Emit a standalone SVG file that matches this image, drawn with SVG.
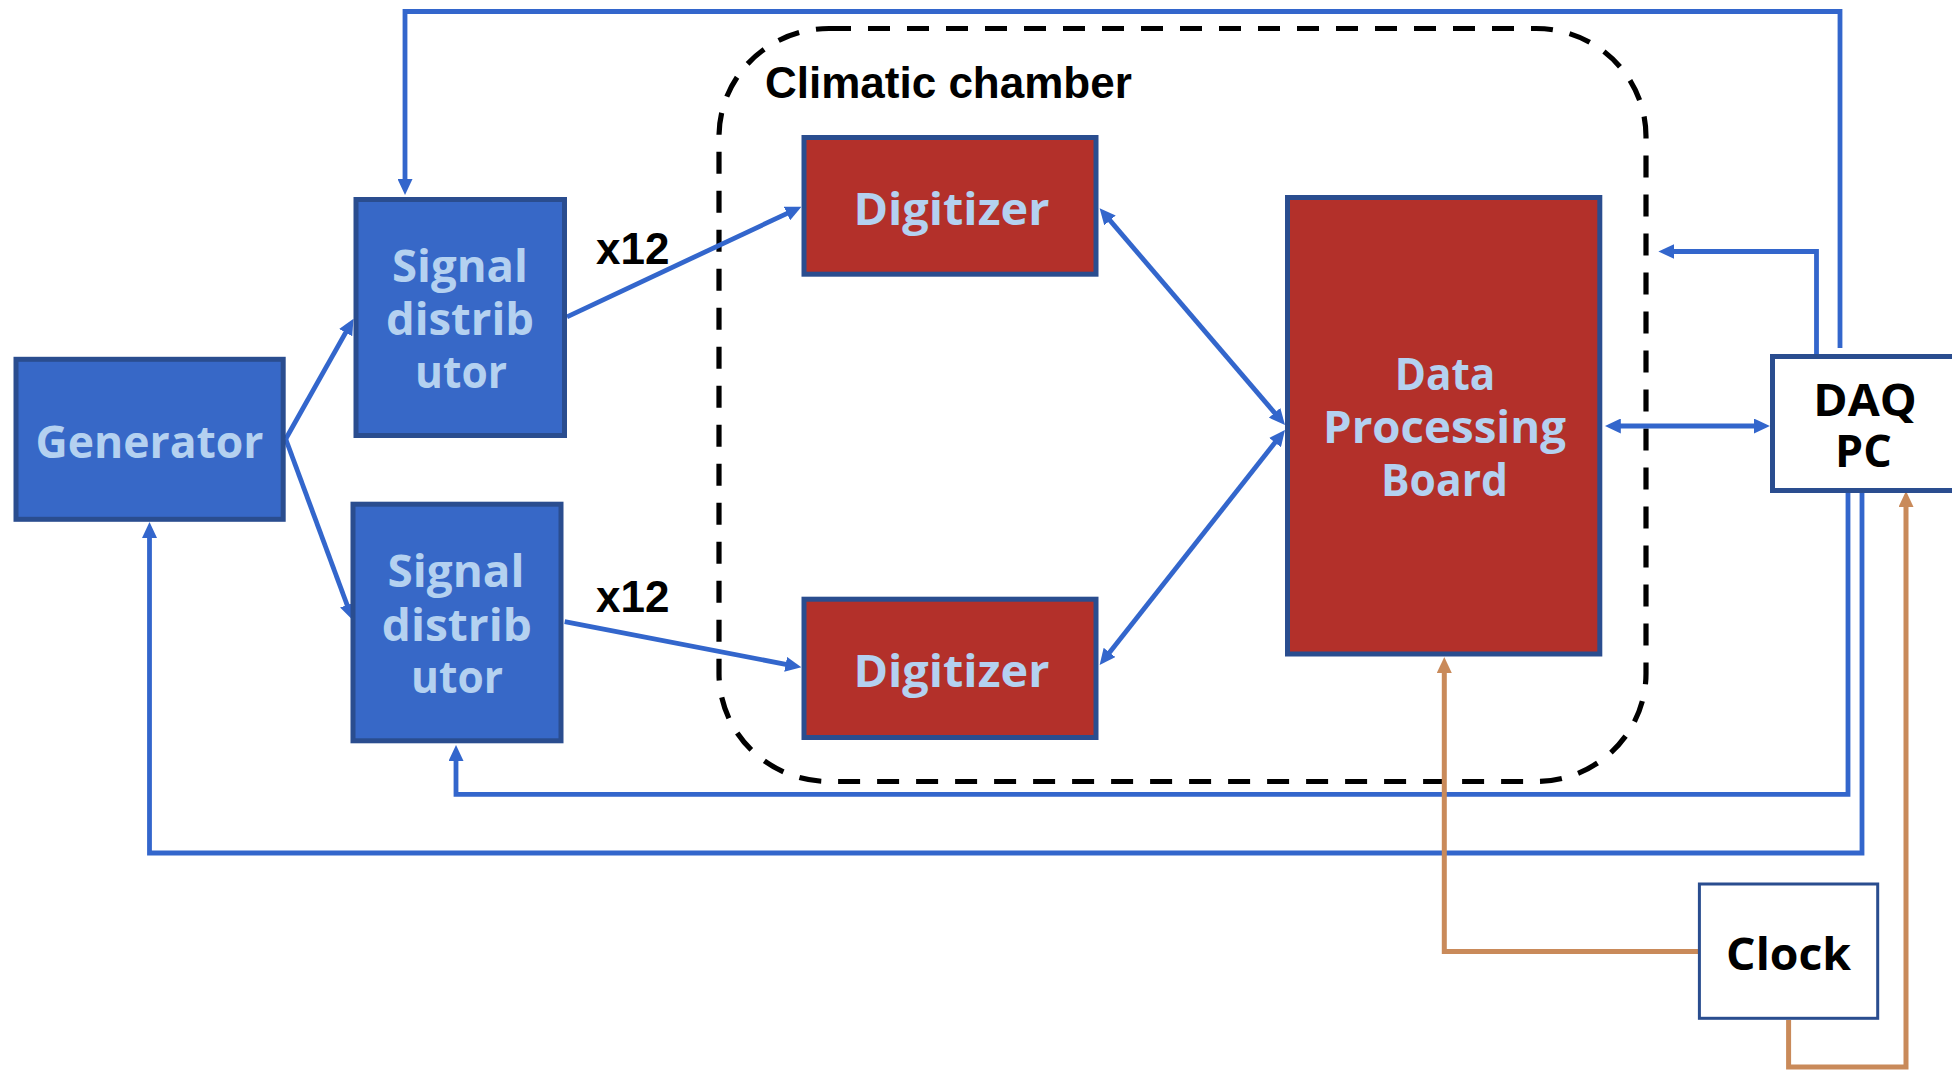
<svg xmlns="http://www.w3.org/2000/svg" width="1952" height="1071" viewBox="0 0 1952 1071">
  <style>
    .blue { fill: #3768c7; stroke: #2a4d8f; stroke-width: 5; }
    .red { fill: #b3302a; stroke: #2a4d8f; stroke-width: 5; }
    .white { fill: #ffffff; stroke: #2a4d8f; stroke-width: 5; }
    .label { font-family: "Open Sans", "Noto Sans", sans-serif; font-weight: bold; font-size: 45px; fill: #b4d1f0; text-anchor: middle; }
    .dark { fill: #000000; }
    .note { font-family: "Liberation Sans", Arial, sans-serif; font-weight: bold; font-size: 44px; fill: #000000; }
    .wire { fill: none; stroke: #3366cc; stroke-width: 4.8; stroke-linejoin: miter; }
    .clk { fill: none; stroke: #c98a5a; stroke-width: 5; stroke-linejoin: miter; }
    .chamber { fill: none; stroke: #000000; stroke-width: 5.2; stroke-dasharray: 22 17; }
  </style>
  <defs>
    <marker id="ab" viewBox="0 0 10 10" refX="5" refY="5" markerUnits="userSpaceOnUse" markerWidth="16" markerHeight="15" orient="auto-start-reverse" preserveAspectRatio="none">
      <path d="M0,0 L10,5 L0,10 z" fill="#3366cc"/>
    </marker>
    <marker id="ao" viewBox="0 0 10 10" refX="5" refY="5" markerUnits="userSpaceOnUse" markerWidth="16" markerHeight="15" orient="auto-start-reverse" preserveAspectRatio="none">
      <path d="M0,0 L10,5 L0,10 z" fill="#c98a5a"/>
    </marker>
  </defs>

  <!-- climatic chamber enclosure -->
  <g id="chamber">
    <rect class="chamber" x="719" y="28.5" width="927" height="753" rx="110" ry="108"/>
    <text class="note" x="765" y="98">Climatic chamber</text>
  </g>

  <!-- connectors -->
  <g id="connectors">
    <path class="wire" d="M285.7,439 L349.6,325.6" marker-end="url(#ab)"/>
    <path class="wire" d="M285.7,439 L349.9,612.5" marker-end="url(#ab)"/>
    <path class="wire" d="M567,316.8 L794.2,210.1" marker-end="url(#ab)"/>
    <path class="wire" d="M564.7,621.7 L793.5,665.8" marker-end="url(#ab)"/>
    <path class="wire" d="M1104.8,214.4 L1279.8,418.9" marker-start="url(#ab)" marker-end="url(#ab)"/>
    <path class="wire" d="M1104.6,658.7 L1280,436.3" marker-start="url(#ab)" marker-end="url(#ab)"/>
    <path class="wire" d="M1612.8,426 L1761.9,426" marker-start="url(#ab)" marker-end="url(#ab)"/>
    <path class="wire" d="M1840,348 V11.5 H405 V187" marker-end="url(#ab)"/>
    <path class="wire" d="M1816.5,355 V251.5 H1666.4" marker-end="url(#ab)"/>
    <path class="wire" d="M1862,493 V853 H149.5 V530" marker-end="url(#ab)"/>
    <path class="wire" d="M1848,493 V794.3 H456 V753" marker-end="url(#ab)"/>
    <path class="clk" d="M1698,951.5 H1444.3 V665" marker-end="url(#ao)"/>
    <path class="clk" d="M1788.6,1020 V1067 H1906 V499" marker-end="url(#ao)"/>
    <text class="note" x="596" y="263.5">x12</text>
    <text class="note" x="596" y="611.7">x12</text>
  </g>

  <g id="generator">
    <rect class="blue" x="16" y="359.3" width="267.2" height="160"/>
    <text class="label" x="149.5" y="458" textLength="228" lengthAdjust="spacingAndGlyphs">Generator</text>
  </g>

  <g id="signal-distributor-1">
    <rect class="blue" x="356" y="199.5" width="208.5" height="236"/>
    <text class="label" x="460" y="282.4" textLength="136" lengthAdjust="spacingAndGlyphs">Signal</text>
    <text class="label" x="460" y="334.8" textLength="148" lengthAdjust="spacingAndGlyphs">distrib</text>
    <text class="label" x="461" y="387.5" textLength="92" lengthAdjust="spacingAndGlyphs">utor</text>
  </g>

  <g id="signal-distributor-2">
    <rect class="blue" x="353" y="504.2" width="208" height="236.6"/>
    <text class="label" x="456" y="587.3" textLength="137" lengthAdjust="spacingAndGlyphs">Signal</text>
    <text class="label" x="456.8" y="640.7" textLength="150" lengthAdjust="spacingAndGlyphs">distrib</text>
    <text class="label" x="457" y="692.7" textLength="92" lengthAdjust="spacingAndGlyphs">utor</text>
  </g>

  <g id="digitizer-1">
    <rect class="red" x="804" y="137.5" width="292" height="136.7"/>
    <text class="label" x="951.4" y="225" textLength="196" lengthAdjust="spacingAndGlyphs">Digitizer</text>
  </g>

  <g id="digitizer-2">
    <rect class="red" x="804" y="599.2" width="292" height="138.3"/>
    <text class="label" x="951.4" y="686.7" textLength="196" lengthAdjust="spacingAndGlyphs">Digitizer</text>
  </g>

  <g id="data-processing-board">
    <rect class="red" x="1287.5" y="197.5" width="312.3" height="456.5"/>
    <text class="label" x="1445" y="390" textLength="100.6" lengthAdjust="spacingAndGlyphs">Data</text>
    <text class="label" x="1444.5" y="442.6" textLength="243" lengthAdjust="spacingAndGlyphs">Processing</text>
    <text class="label" x="1444.5" y="496" textLength="127" lengthAdjust="spacingAndGlyphs">Board</text>
  </g>

  <g id="daq-pc">
    <rect class="white" x="1772.5" y="356.5" width="190" height="134"/>
    <text class="label dark" x="1865" y="416" textLength="103.4" lengthAdjust="spacingAndGlyphs">DAQ</text>
    <text class="label dark" x="1863.4" y="467" textLength="56.7" lengthAdjust="spacingAndGlyphs">PC</text>
  </g>

  <g id="clock">
    <rect class="white" x="1699.4" y="884" width="178.3" height="134.3" style="stroke-width:3"/>
    <text class="label dark" x="1788.6" y="970" textLength="125" lengthAdjust="spacingAndGlyphs">Clock</text>
  </g>
</svg>
